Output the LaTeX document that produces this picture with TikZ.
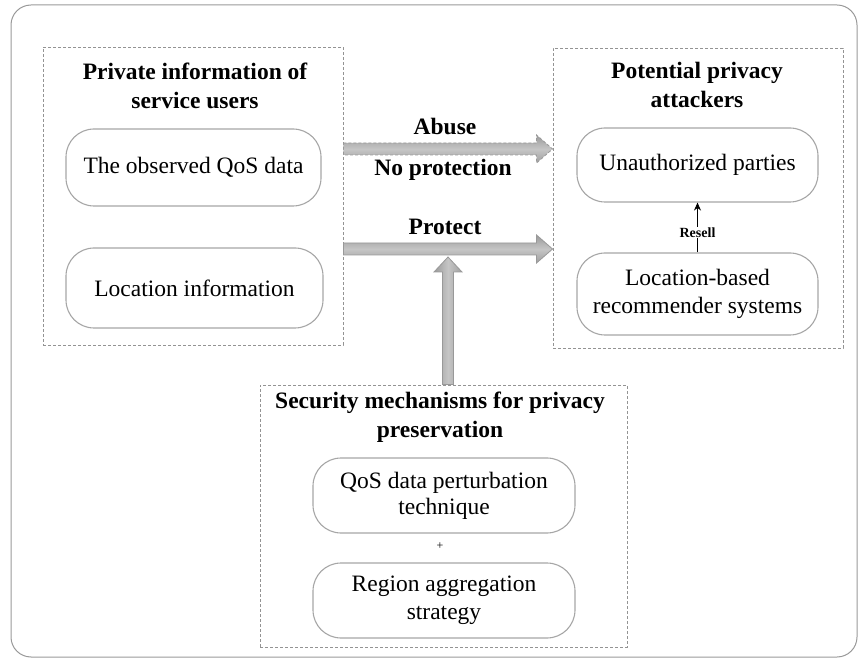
\documentclass[tikz,border=0pt]{standalone}
\usepackage{fontspec}
\setmainfont{Liberation Serif}
\usetikzlibrary{calc,arrows.meta}
\tikzset{
  dashbox/.style={draw=gray!85, line width=0.9pt, dash pattern=on 3pt off 2pt},
  roundbox/.style={draw=gray!70, line width=1.1pt, rounded corners=28pt, fill=white, align=center, inner sep=0pt,
     font=\fontsize{23.5}{28}\selectfont},
  titletext/.style={align=center, font=\bfseries\fontsize{23.5}{29}\selectfont, inner sep=0pt},
  lbl/.style={font=\bfseries\fontsize{23.5}{28}\selectfont, inner sep=0pt},
  hshade/.style={top color=gray!80, bottom color=gray!75, middle color=gray!45, draw=gray!80, line width=0.8pt},
  vshade/.style={left color=gray!80, right color=gray!75, middle color=gray!45, draw=gray!80, line width=0.8pt},
}
\newcommand\hfat[3]{%
  \path[#3] ($(#1)+(0,-6)$) -- ($(#2)+(-16,-6)$) -- ($(#2)+(-16,-14)$) -- (#2)
     -- ($(#2)+(-16,14)$) -- ($(#2)+(-16,6)$) -- ($(#1)+(0,6)$) -- cycle;}
\newcommand\vfat[3]{%
  \path[#3] ($(#1)+(-5.5,0)$) -- ($(#2)+(-5.5,15)$) -- ($(#2)+(-14,15)$) -- (#2)
     -- ($(#2)+(14,15)$) -- ($(#2)+(5.5,15)$) -- ($(#1)+(5.5,0)$) -- cycle;}
\begin{document}
\begin{tikzpicture}[x=1pt,y=-1pt]
\useasboundingbox (0,0) rectangle (860,660);
% outer frame
\draw[gray!80, line width=1pt, rounded corners=20pt] (11,5) rectangle (857,657);

% left group
\node[dashbox, minimum width=300pt, minimum height=298pt, inner sep=0pt] (L) at (193,196) {};
\node[titletext] (LT) at (195,86) {Private information of\\service users};
\node[roundbox, minimum width=255pt, minimum height=77pt] (q1) at (193.5,167.5) {The observed QoS data};
\node[roundbox, minimum width=257pt, minimum height=80pt] (q2) at (194.5,288) {Location information};

% right group
\node[dashbox, minimum width=290pt, minimum height=300pt, inner sep=0pt] (R) at (698,198) {};
\node[titletext] (RT) at (697,85) {Potential privacy\\attackers};
\node[roundbox, minimum width=241pt, minimum height=74pt] (U) at (697.5,165) {Unauthorized parties};
\node[roundbox, minimum width=241pt, minimum height=82pt] (LB) at (697.5,294) {Location-based\\recommender systems};

% bottom group
\node[dashbox, minimum width=367pt, minimum height=262pt, inner sep=0pt] (B) at (443.5,516) {};
\node[titletext] (BT) at (440,417.5) {Security mechanisms for privacy\\preservation};
\node[roundbox, minimum width=262pt, minimum height=75pt, font=\fontsize{23.5}{26}\selectfont] (P1) at (444,495.5) {QoS data perturbation\\technique};
\node[roundbox, minimum width=262pt, minimum height=75pt] (P2) at (444,600.5) {Region aggregation\\strategy};
\node[font=\fontsize{12}{12}\selectfont, inner sep=0pt] (plus) at (440,546) {+};

% labels
\node[lbl] (abuse) at (445,126) {Abuse};
\node[lbl] (noprot) at (443,170) {No protection};
\node[lbl] (prot) at (445,227) {Protect};

% fat arrows
\coordinate (ya) at (0,149);
\coordinate (yp) at (0,249);
\coordinate (xv) at (448,0);
\coordinate (a1) at (L.east |- ya);
\coordinate (a2) at (R.west |- ya);
\coordinate (p1) at (L.east |- yp);
\coordinate (p2) at (R.west |- yp);
\coordinate (v1) at (xv |- B.north);
\coordinate (v2) at (448,257);
\hfat{a1}{a2}{hshade, dash pattern=on 3pt off 2pt}
\hfat{p1}{p2}{hshade}
\vfat{v1}{v2}{vshade}

% small arrow
\draw[-{Stealth[length=8pt,width=7pt]}, line width=0.9pt] (LB.north) -- (U.south)
  node[pos=0.4, fill=white, inner sep=1pt, font=\bfseries\fontsize{14}{14}\selectfont] (res) {Resell};
\end{tikzpicture}
\end{document}
